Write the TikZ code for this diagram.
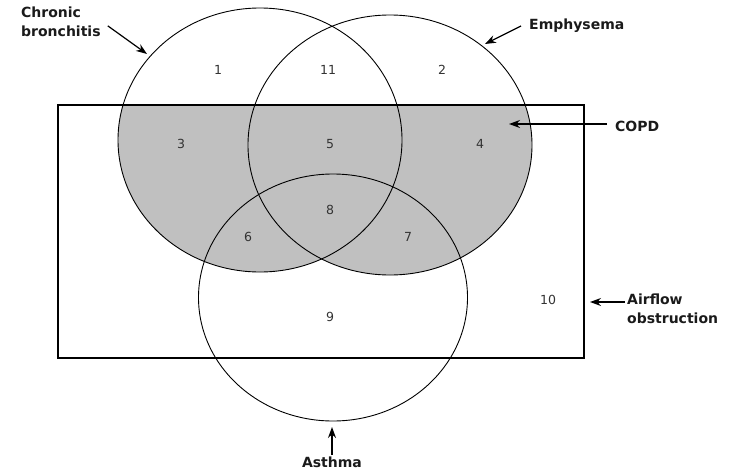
\documentclass[tikz,border=0pt]{standalone}
\usepackage{fontspec}
\setmainfont{DejaVu Sans}
\usetikzlibrary{positioning,arrows.meta}
\tikzset{>=Stealth}
\definecolor{copdgray}{HTML}{C0C0C0}
\definecolor{numgray}{HTML}{333333}
\definecolor{labblack}{HTML}{1A1A1A}
\tikzset{
  setline/.style={line width=0.9pt},
  pointer/.style={->,line width=1.2pt,>={Stealth[length=11pt,width=8pt]}},
  lab/.style={font=\bfseries\fontsize{14}{18.5}\selectfont,text=labblack,inner sep=2pt},
  num/.style={font=\fontsize{12.5}{14}\selectfont,text=numgray,inner sep=1pt}
}

\begin{document}
\begin{tikzpicture}[x=1pt,y=-1pt]
\useasboundingbox (0,0) rectangle (730,474);
\coordinate (CB) at (260,140);
\coordinate (EM) at (390,145);
\coordinate (AS) at (333,297.5);
% shaded COPD part
\begin{scope}
\clip (58,105) rectangle (584,358);
\fill[copdgray] (CB) ellipse[x radius=142,y radius=132];
\fill[copdgray] (EM) ellipse[x radius=142,y radius=130];
\end{scope}
\draw[setline] (CB) ellipse[x radius=142,y radius=132];
\draw[setline] (EM) ellipse[x radius=142,y radius=130];
\draw[setline] (AS) ellipse[x radius=134.5,y radius=123.5];
\draw[line width=2.6pt] (58,105) rectangle (584,358);
% region numbers
\foreach \n/\x/\y in {1/218/70,11/328/70,2/442/70,3/181/144,5/330/144,4/480/144,
  8/330/210,6/248/237,7/408/237,9/330/317,10/548/300}
  \node[num] (n\n) at (\x,\y) {\n};
% labels
\node[lab,align=left,anchor=north west] (cb) at (19,5) {Chronic\\bronchitis};
\node[lab,anchor=west] (em) at (527,26) {Emphysema};
\node[lab,anchor=west] (copd) at (613,126) {COPD};
\node[lab,align=left,anchor=north west] (air) at (625,292) {Airflow\\obstruction};
\node[lab,anchor=north] (as) at (332,455) {Asthma};
\coordinate (cbtip) at (147,54);
\coordinate (emtip) at (485,44);
\coordinate (copdtip) at (509,124);
\coordinate (airtip) at (590,302);
\coordinate (astip) at (332,427);
\draw[pointer] ([shift={(5,4)}]cb.east) -- (cbtip);
\draw[pointer] ([xshift=-6pt]em.west) -- (emtip);
\draw[pointer] ([xshift=-6pt]copd.west |- copdtip) -- (copdtip);
\draw[pointer] (air.west |- airtip) -- (airtip);
\draw[pointer] (as.north) -- (astip);
\end{tikzpicture}
\end{document}
